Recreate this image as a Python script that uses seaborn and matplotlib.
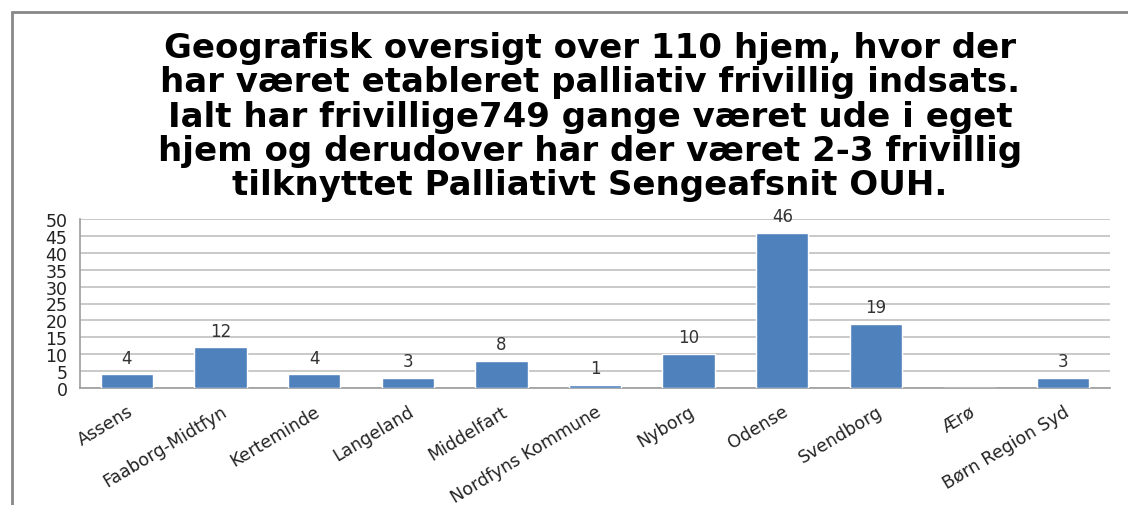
import matplotlib
matplotlib.use("Agg")
import matplotlib.pyplot as plt
import seaborn as sns
import pandas as pd
from matplotlib.lines import Line2D

categories = ["Assens", "Faaborg-Midtfyn", "Kerteminde", "Langeland", "Middelfart",
              "Nordfyns Kommune", "Nyborg", "Odense", "Svendborg", "Ærø", "Børn Region Syd"]
values = [4, 12, 4, 3, 8, 1, 10, 46, 19, None, 3]
title_text = ("Geografisk oversigt over 110 hjem, hvor der\n"
              "har været etableret palliativ frivillig indsats.\n"
              "Ialt har frivillige749 gange været ude i eget\n"
              "hjem og derudover har der været 2-3 frivillig\n"
              "tilknyttet Palliativt Sengeafsnit OUH.")
yticks = list(range(0, 55, 5))

sns.set_theme(style="white")
plt.rcParams['font.family'] = ['DejaVu Sans']

df = pd.DataFrame({"kommune": categories, "antal": [v if v is not None else 0 for v in values]})

fig = plt.figure(figsize=(11.28, 5.06), dpi=100)
ax = fig.add_axes([80/1128, 1-389/506, (1110-80)/1128, (389-220)/506])

sns.barplot(data=df, x="kommune", y="antal", color="#4f81bd", width=0.56,
            saturation=1, ax=ax, zorder=3)

ax.set_ylim(0, 50)
ax.set_yticks(yticks)
ax.set_yticklabels([str(t) for t in yticks], fontsize=12.5, color="#222222")
ax.set_xlim(-0.5, len(categories) - 0.5)
ax.set_xticks(range(len(categories)))
ax.set_xticklabels(categories, rotation=31, ha="right", rotation_mode="anchor",
                   fontsize=12.5, color="#222222")
ax.tick_params(axis="y", length=0, pad=9)
ax.tick_params(axis="x", length=0, pad=10)
ax.set_xlabel("")
ax.set_ylabel("")
ax.yaxis.grid(True, color="#c0c0c0", linewidth=1.2, zorder=0)
ax.set_axisbelow(True)
for s in ["top", "right"]:
    ax.spines[s].set_visible(False)
ax.spines["left"].set_color("#a0a0a0")
ax.spines["bottom"].set_color("#a0a0a0")

for i, v in enumerate(values):
    if v is None:
        continue
    ax.text(i, v + 2.3, str(v), ha="center", va="bottom", fontsize=12, color="#333333")

fig.text(0.523, 1 - 32/506, title_text, ha="center", va="top", fontsize=24.5,
         fontweight="bold", linespacing=1.05, color="black")

# outer chart frame
fig.add_artist(Line2D([12/1128, 12/1128], [0, 1 - 13/506], transform=fig.transFigure,
                      color="#888888", linewidth=2))
fig.add_artist(Line2D([12/1128, 1], [1 - 13/506, 1 - 13/506], transform=fig.transFigure,
                      color="#888888", linewidth=2))

fig.savefig("out.png", dpi=100, facecolor="white")
